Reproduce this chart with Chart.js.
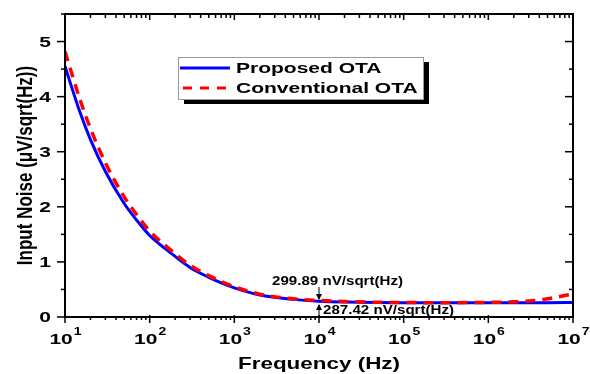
<!DOCTYPE html>
<html lang="en">
<head>
    <meta charset="UTF-8">
    <title>Input Noise</title>
    <style>
        body { margin: 0; background: #fff; }
        #wrap { width: 590px; height: 374px; }
    </style>
</head>
<body>
    <div id="wrap"><canvas id="noiseChart"></canvas></div>

    <script src="https://cdn.jsdelivr.net/npm/chart.js"></script>
    <script>
        // values (Hz, uV/sqrt(Hz))
        const freq = [10, 15, 20, 30, 50, 70, 100, 150, 200, 300, 500, 700, 1e3, 2e3, 5e3, 1e4, 2e4, 5e4, 1e5, 3e5, 1e6, 2e6, 3e6, 5e6, 1e7];
        const proposed = [4.55, 3.72, 3.22, 2.64, 2.06, 1.76, 1.48, 1.25, 1.1, 0.9, 0.72, 0.62, 0.53, 0.40, 0.32, 0.287, 0.272, 0.263, 0.26, 0.258, 0.258, 0.258, 0.259, 0.26, 0.262];
        const conventional = [4.82, 3.95, 3.42, 2.8, 2.18, 1.86, 1.56, 1.31, 1.15, 0.94, 0.75, 0.645, 0.55, 0.415, 0.33, 0.3, 0.28, 0.268, 0.263, 0.26, 0.265, 0.275, 0.29, 0.33, 0.42];
        const xExponents = [1, 2, 3, 4, 5, 6, 7];
        const yTicks = [0, 1, 2, 3, 4, 5];
        const seriesNames = ['Proposed OTA', 'Conventional OTA'];
        const notes = ['299.89 nV/sqrt(Hz)', '287.42 nV/sqrt(Hz)'];

        const FONT = '"Liberation Sans", Arial, sans-serif';
        const SX = 1.4; // the reference is stretched sideways

        const wideText = (ctx, txt, x, y, size, align, sx) => {
            ctx.save();
            ctx.font = `bold ${size}px ${FONT}`;
            const w = ctx.measureText(txt).width * sx;
            const left = align === 'center' ? x - w / 2 : align === 'right' ? x - w : x;
            ctx.translate(left, y);
            ctx.scale(sx, 1);
            ctx.textAlign = 'left';
            ctx.fillText(txt, 0, 0);
            ctx.restore();
            return w;
        };

        const tick = (ctx, x1, y1, x2, y2) => {
            ctx.beginPath();
            ctx.moveTo(x1, y1);
            ctx.lineTo(x2, y2);
            ctx.stroke();
        };

        const decor = {
            id: 'decor',
            afterDraw(chart) {
                const { ctx, chartArea: a, scales: { x, y } } = chart;
                ctx.save();
                ctx.fillStyle = '#000';
                ctx.strokeStyle = '#000';

                // frame
                ctx.lineWidth = 2;
                ctx.strokeRect(a.left, a.top, a.right - a.left, a.bottom - a.top);

                // x ticks (major + minor), bottom outward, top inward
                ctx.lineWidth = 1.5;
                xExponents.forEach(e => {
                    const px = x.getPixelForValue(10 ** e);
                    tick(ctx, px, a.bottom - 2, px, a.bottom + 6);
                    tick(ctx, px, a.top, px, a.top + 6);
                    if (e < 7) {
                        for (let m = 2; m < 10; m++) {
                            const mx = x.getPixelForValue(m * 10 ** e);
                            tick(ctx, mx, a.bottom, mx, a.bottom + 3);
                            tick(ctx, mx, a.top, mx, a.top + 4);
                        }
                    }
                });

                // y ticks, left outward, right inward
                yTicks.forEach(v => {
                    const py = y.getPixelForValue(v);
                    tick(ctx, a.left - 8, py, a.left, py);
                    tick(ctx, a.right - 8, py, a.right, py);
                    const hy = y.getPixelForValue(v + 0.5);
                    tick(ctx, a.left - 4, hy, a.left, hy);
                    tick(ctx, a.right - 4, hy, a.right, hy);
                });

                // y tick labels
                ctx.textBaseline = 'middle';
                yTicks.forEach(v => {
                    wideText(ctx, String(v), a.left - 14, y.getPixelForValue(v) + 1, 15, 'right', SX);
                });

                // x tick labels 10^n
                ctx.textBaseline = 'alphabetic';
                xExponents.forEach(e => {
                    const px = x.getPixelForValue(10 ** e);
                    ctx.font = `bold 15px ${FONT}`;
                    const wb = ctx.measureText('10').width * SX;
                    ctx.font = `bold 10px ${FONT}`;
                    const we = ctx.measureText(String(e)).width * SX;
                    const left = px - (wb + we) / 2;
                    wideText(ctx, '10', left, 344, 15, 'left', SX);
                    wideText(ctx, String(e), left + wb + 1, 335, 10, 'left', SX);
                });

                // axis titles
                wideText(ctx, 'Frequency (Hz)', (a.left + a.right) / 2, 369, 17, 'center', 1.32);
                ctx.save();
                ctx.translate(32, (a.top + a.bottom) / 2);
                ctx.rotate(-Math.PI / 2);
                ctx.scale(1, 1.35);
                ctx.font = `bold 17px ${FONT}`;
                ctx.textAlign = 'center';
                ctx.fillText('Input Noise (\u03bcV/sqrt(Hz))', 0, 0);
                ctx.restore();

                // legend box with shadow
                ctx.fillStyle = '#000';
                ctx.fillRect(184, 62, 245, 42);
                ctx.fillStyle = '#fff';
                ctx.fillRect(178, 57, 245, 42);
                ctx.strokeStyle = '#999';
                ctx.lineWidth = 1;
                ctx.strokeRect(178.5, 57.5, 245, 42);

                const ds = chart.data.datasets;
                ctx.lineWidth = 3;
                ctx.strokeStyle = ds[0].borderColor;
                tick(ctx, 180, 68, 230, 68);
                ctx.strokeStyle = ds[1].borderColor;
                ctx.setLineDash([9, 8]);
                tick(ctx, 183, 88, 230, 88);
                ctx.setLineDash([]);
                ctx.fillStyle = '#000';
                wideText(ctx, seriesNames[0], 236, 73, 15, 'left', SX);
                wideText(ctx, seriesNames[1], 236, 93, 15, 'left', SX);

                // annotations at 10^4
                const ax = x.getPixelForValue(1e4);
                wideText(ctx, notes[0], 272, 285, 12, 'left', 1.26);
                wideText(ctx, notes[1], 323, 314, 12, 'left', 1.26);
                ctx.lineWidth = 1;
                ctx.strokeStyle = '#000';
                tick(ctx, ax, 287, ax, 299);
                ctx.beginPath();
                ctx.moveTo(ax - 3, 294); ctx.lineTo(ax + 3, 294); ctx.lineTo(ax, 300); ctx.closePath(); ctx.fill();
                tick(ctx, ax, 305, ax, 317);
                ctx.beginPath();
                ctx.moveTo(ax - 3, 310); ctx.lineTo(ax + 3, 310); ctx.lineTo(ax, 304); ctx.closePath(); ctx.fill();

                ctx.restore();
            }
        };

        const toPoints = vals => vals.map((v, i) => ({ x: freq[i], y: v }));

        new Chart(document.getElementById('noiseChart'), {
            type: 'line',
            data: {
                datasets: [{
                    label: seriesNames[0],
                    data: toPoints(proposed),
                    borderColor: '#0000ff',
                    borderWidth: 3,
                    pointRadius: 0,
                    cubicInterpolationMode: 'monotone',
                    order: 2
                }, {
                    label: seriesNames[1],
                    data: toPoints(conventional),
                    borderColor: '#ff0000',
                    borderWidth: 3.5,
                    borderDash: [10, 7],
                    pointRadius: 0,
                    cubicInterpolationMode: 'monotone',
                    order: 1
                }]
            },
            options: {
                responsive: true,
                maintainAspectRatio: false,
                animation: false,
                layout: { padding: { left: 65, right: 17, top: 14, bottom: 57 } },
                plugins: { legend: { display: false }, tooltip: { enabled: false } },
                scales: {
                    x: { type: 'logarithmic', min: 10, max: 1e7, display: false },
                    y: { type: 'linear', min: 0, max: 5.5, display: false }
                }
            },
            plugins: [decor]
        });
    </script>
</body>
</html>
